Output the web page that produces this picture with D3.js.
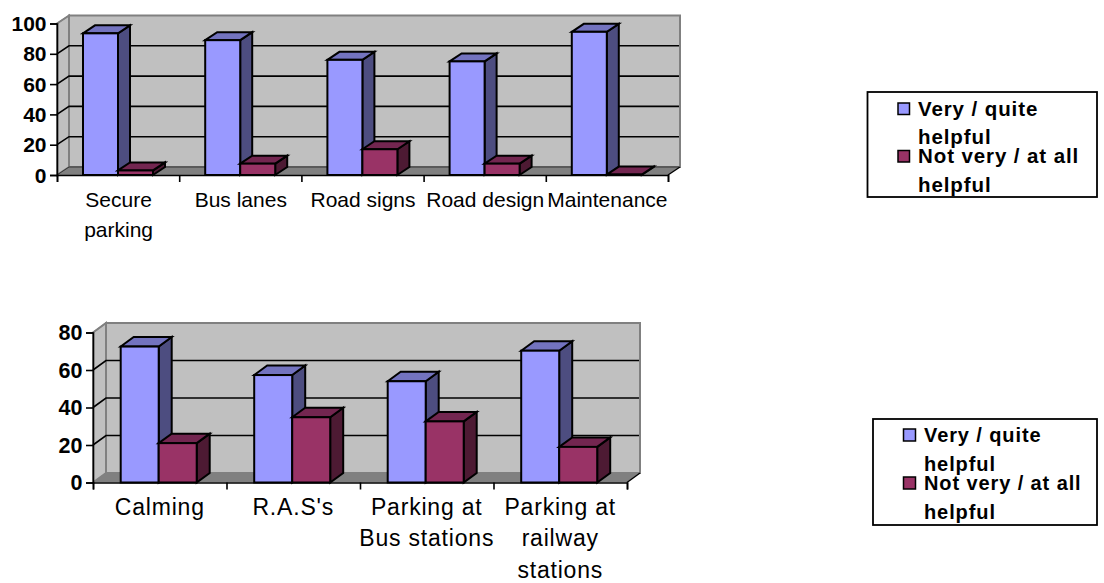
<!DOCTYPE html>
<html>
<head>
<meta charset="utf-8">
<script src="https://cdn.jsdelivr.net/npm/d3@7/dist/d3.min.js"></script>
<style>
html,body{margin:0;padding:0;background:#fff}
svg{display:block}
text{font-family:"Liberation Sans",Arial,sans-serif;fill:#000}
</style>
</head>
<body>
<svg id="c" width="1104" height="583"></svg>
<script>
const seriesNames = [["Very / quite", "helpful"], ["Not very / at all", "helpful"]];
const topCategories = [["Secure", "parking"], ["Bus lanes"], ["Road signs"], ["Road design"], ["Maintenance"]];
const topHelpful = [93.5, 89, 76, 75, 94.5];
const topUnhelpful = [3, 7.5, 17, 7.5, 0.3];
const topTicks = [0, 20, 40, 60, 80, 100];
const lowerCategories = [["Calming"], ["R.A.S's"], ["Parking at", "Bus stations"], ["Parking at", "railway", "stations"]];
const lowerHelpful = [72.5, 57.3, 54, 70.3];
const lowerUnhelpful = [21, 34.8, 32.6, 19];
const lowerTicks = [0, 20, 40, 60, 80];

const fronts = ["#9999ff", "#993366"];
const sides = ["#4d4d80", "#4d1a33"];
const tops = ["#7373bf", "#732650"];
const svg = d3.select("#c");
const pts = a => a.map(p => p.join(",")).join(" ");

// One 3-D column panel: walls, floor, grid, columns, axes and category labels.
function panel(o) {
  const g = svg.append("g");
  const x = d3.scaleBand().domain(o.categories.map((_, i) => i)).range([o.left, o.right]);
  const y = d3.scaleLinear().domain([0, o.max]).range([o.bottom, o.top]);
  const {dx, dy} = o;
  const y0 = y(0), yT = y(o.max);

  // back wall, side wall, floor
  g.append("polygon").attr("points", pts([[o.left + dx, yT - dy], [o.right + dx, yT - dy], [o.right + dx, y0 - dy], [o.left + dx, y0 - dy]]))
    .attr("fill", "#c0c0c0").attr("stroke", "#808080").attr("stroke-width", 2);
  g.append("polygon").attr("points", pts([[o.left, yT], [o.left + dx, yT - dy], [o.left + dx, y0 - dy], [o.left, y0]]))
    .attr("fill", "#c0c0c0").attr("stroke", "#808080").attr("stroke-width", 2);
  g.append("polygon").attr("points", pts([[o.left, y0], [o.left + dx, y0 - dy], [o.right + dx, y0 - dy], [o.right, y0]]))
    .attr("fill", "#808080");

  // grid lines run along the side wall and across the back wall
  o.ticks.forEach(t => {
    if (t === o.max) return;
    const isFloor = t === 0;
    g.append("polyline").attr("fill", "none")
      .attr("stroke", isFloor ? o.floorLine : "#000").attr("stroke-width", isFloor ? 1 : 1.6)
      .attr("points", pts([[o.left, y(t)], [o.left + dx, y(t) - dy], [o.right + dx - 1, y(t) - dy]]));
  });
  g.append("line").attr("x1", o.left).attr("y1", yT).attr("x2", o.left + dx).attr("y2", yT - dy)
    .attr("stroke", "#808080").attr("stroke-width", 1.4);
  g.append("line").attr("x1", o.right).attr("y1", y0).attr("x2", o.right + dx).attr("y2", y0 - dy)
    .attr("stroke", "#000").attr("stroke-width", 1.4);

  // columns
  const inner = d3.scaleBand().domain([0, 1]).range([o.barStart, o.barStart + o.barWidth * 2]);
  o.categories.forEach((_, i) => {
    [o.a, o.b].forEach((vals, s) => {
      const xl = x(i) + inner(s), w = inner.bandwidth(), yt = y(vals[i]);
      const col = g.append("g").attr("stroke", "#000").attr("stroke-width", 2).attr("stroke-linejoin", "miter");
      col.append("polygon").attr("fill", sides[s])
        .attr("points", pts([[xl + w, yt], [xl + w + dx, yt - dy], [xl + w + dx, y0 - dy], [xl + w, y0]]));
      col.append("polygon").attr("fill", tops[s])
        .attr("points", pts([[xl, yt], [xl + dx, yt - dy], [xl + w + dx, yt - dy], [xl + w, yt]]));
      col.append("rect").attr("fill", fronts[s]).attr("x", xl).attr("y", yt).attr("width", w).attr("height", y0 - yt);
    });
  });

  // value axis
  const ay = g.append("g").attr("transform", `translate(${o.left},0)`)
    .call(d3.axisLeft(y).tickValues(o.ticks).tickSize(7).tickPadding(3.5).tickFormat(d3.format("d")));
  ay.selectAll("path,line").attr("stroke", "#000").attr("stroke-width", 1.6);
  ay.selectAll("text").attr("font-size", o.tickSize).attr("font-weight", "bold").attr("dy", "0.34em")
    .style("font-family", '"Liberation Sans",Arial,sans-serif');

  // category axis with one tick at each band boundary
  const edge = d3.scaleLinear().domain([0, o.categories.length]).range([o.left, o.right]);
  const ax = g.append("g").attr("transform", `translate(0,${y0})`)
    .call(d3.axisBottom(edge).ticks(o.categories.length).tickSize(7).tickFormat(""));
  ax.selectAll("path,line").attr("stroke", "#000").attr("stroke-width", 1.6);

  o.categories.forEach((lines, i) => {
    lines.forEach((line, l) => {
      g.append("text").attr("x", x(i) + x.bandwidth() / 2 + o.labelShift).attr("y", o.labelY + l * o.labelStep)
        .attr("text-anchor", "middle").attr("font-size", o.labelSize)
        .attr("letter-spacing", o.labelSpacing).text(line);
    });
  });
}

// Boxed legend with wrapped series names.
function legend(o) {
  const g = svg.append("g");
  g.append("rect").attr("x", o.x).attr("y", o.y).attr("width", o.w).attr("height", o.h)
    .attr("fill", "#fff").attr("stroke", "#000").attr("stroke-width", 1.8);
  seriesNames.forEach((lines, s) => {
    const yy = o.rows[s];
    g.append("rect").attr("x", o.keyX).attr("y", yy - o.key - 1).attr("width", o.key).attr("height", o.key)
      .attr("fill", fronts[s]).attr("stroke", "#000").attr("stroke-width", 1.5);
    lines.forEach((line, l) => {
      g.append("text").attr("x", o.textX).attr("y", yy + l * o.step).attr("font-size", o.size)
        .attr("font-weight", "bold").attr("letter-spacing", o.spacing).text(line);
    });
  });
}

panel({categories: topCategories, a: topHelpful, b: topUnhelpful, ticks: topTicks, max: 100,
  left: 57, right: 668, top: 23.5, bottom: 175, dx: 12, dy: 8, barStart: 26, barWidth: 35,
  tickSize: 21, labelSize: 21, labelSpacing: 0, labelY: 207, labelStep: 30, labelShift: 0.5, floorLine: "#333"});
panel({categories: lowerCategories, a: lowerHelpful, b: lowerUnhelpful, ticks: lowerTicks, max: 80,
  left: 93, right: 627, top: 332.5, bottom: 482.5, dx: 13, dy: 9.5, barStart: 27.7, barWidth: 38,
  tickSize: 21.5, labelSize: 23, labelSpacing: 0.8, labelY: 515, labelStep: 31.4, labelShift: 0, floorLine: "#808080"});
legend({x: 867.5, y: 92, w: 229.5, h: 105, keyX: 898, textX: 918, rows: [115.5, 163], step: 28.5, key: 11.5, size: 20.5, spacing: 0.9});
legend({x: 873, y: 419, w: 224, h: 106, keyX: 903.5, textX: 924, rows: [442, 490], step: 29, key: 12, size: 20, spacing: 0.9});
</script>
</body>
</html>
